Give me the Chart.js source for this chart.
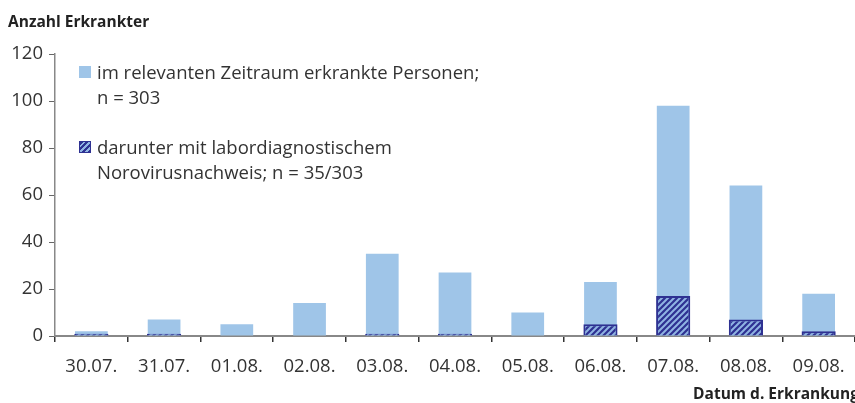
<!DOCTYPE html>
<html lang="de">
  <head>
    <meta charset="UTF-8" />
    <title>Anzahl Erkrankter</title>
    <style>
      html, body { margin: 0; padding: 0; background: #fff; }
      body { width: 855px; height: 403px; position: relative; overflow: hidden;
             font-family: "Open Sans", "Liberation Sans", sans-serif; color: #333; }
      #wrap { position: absolute; left: 0; top: 0; width: 855px; height: 403px; }
      .title { position: absolute; font-weight: bold; font-size: 15.5px; color: #222; }
      #ytitle { left: 8px; top: 10px; }
      #xtitle { right: -4px; top: 382px; }
      .leg { position: absolute; font-size: 18.5px; line-height: 25px; color: #333; }
      .sw { position: absolute; width: 12px; height: 12px; }
      #sw1 { left: 79px; top: 66px; background: #9fc5e8; }
      #sw2 { left: 79px; top: 141px; box-sizing: border-box; border: 1.5px solid #2e3192;
             background: repeating-linear-gradient(-45deg, #2e3192 0 2px, #8fb4e3 2px 4px); }
      #leg1 { left: 97px; top: 59px; }
      #leg2 { left: 97px; top: 134px; }
    </style>
  </head>
  <body>
    <div id="wrap"><canvas id="chart" width="855" height="403"></canvas></div>
    <div class="title" id="ytitle">Anzahl Erkrankter</div>
    <div class="title" id="xtitle">Datum d. Erkrankung</div>
    <div class="sw" id="sw1"></div>
    <div class="leg" id="leg1">im relevanten Zeitraum erkrankte Personen;<br />n = 303</div>
    <div class="sw" id="sw2"></div>
    <div class="leg" id="leg2">darunter mit labordiagnostischem<br />Norovirusnachweis; n = 35/303</div>

    <script src="https://cdn.jsdelivr.net/npm/chart.js"></script>

    <script>
      const days = ["30.07.", "31.07.", "01.08.", "02.08.", "03.08.", "04.08.",
                    "05.08.", "06.08.", "07.08.", "08.08.", "09.08."];
      const erkrankt = [2, 7, 5, 14, 35, 27, 10, 23, 98, 64, 18];
      const noro = [1, 1, 0, 0, 1, 1, 0, 5, 17, 7, 2];

      // hatch fill for the noro bars
      const pc = document.createElement("canvas");
      pc.width = 6;
      pc.height = 6;
      const p = pc.getContext("2d");
      p.fillStyle = "#2e3192";
      p.fillRect(0, 0, 6, 6);
      p.strokeStyle = "#8fb4e3";
      p.lineWidth = 2;
      p.beginPath();
      p.moveTo(-1, 7); p.lineTo(7, -1);
      p.moveTo(-4, 4); p.lineTo(4, -4);
      p.moveTo(2, 10); p.lineTo(10, 2);
      p.stroke();
      const hatch = p.createPattern(pc, "repeat");

      const ctx = document.getElementById("chart");

      new Chart(ctx, {
        type: "bar",
        data: {
          labels: days,
          datasets: [
            {
              label: "darunter mit labordiagnostischem Norovirusnachweis; n = 35/303",
              data: noro,
              backgroundColor: hatch,
              borderColor: "#2e3192",
              borderWidth: 2,
              barPercentage: 0.47,
              categoryPercentage: 1,
              order: 0,
            },
            {
              label: "im relevanten Zeitraum erkrankte Personen; n = 303",
              data: erkrankt,
              backgroundColor: "#9fc5e8",
              borderWidth: 0,
              barPercentage: 0.45,
              categoryPercentage: 1,
              order: 1,
            },
          ],
        },
        options: {
          responsive: false,
          animation: false,
          datasets: { bar: { grouped: false } },
          layout: { padding: { top: 54, right: 0, left: 0, bottom: 0 } },
          plugins: {
            legend: { display: false },
            tooltip: { enabled: false },
          },
          scales: {
            x: {
              grid: {
                offset: true,
                drawOnChartArea: false,
                drawTicks: true,
                tickLength: 6,
                color: "#333",
                lineWidth: 1.5,
              },
              border: { color: "#888", width: 2 },
              ticks: {
                color: "#333",
                padding: 14,
                font: { size: 18.5, family: "'Open Sans', sans-serif" },
                maxRotation: 0,
              },
              afterFit: (s) => {
                s.height = 67;
                s.paddingLeft = 0;
                s.paddingRight = 0;
              },
            },
            y: {
              min: 0,
              max: 120,
              grid: {
                drawOnChartArea: false,
                drawTicks: true,
                tickLength: 6,
                color: "#666",
              },
              border: { color: "#888", width: 1.5 },
              ticks: {
                stepSize: 20,
                color: "#333",
                padding: 6,
                font: { size: 18.5, family: "'Open Sans', sans-serif" },
              },
              afterFit: (s) => { s.width = 55; },
            },
          },
        },
      });
    </script>
  </body>
</html>
